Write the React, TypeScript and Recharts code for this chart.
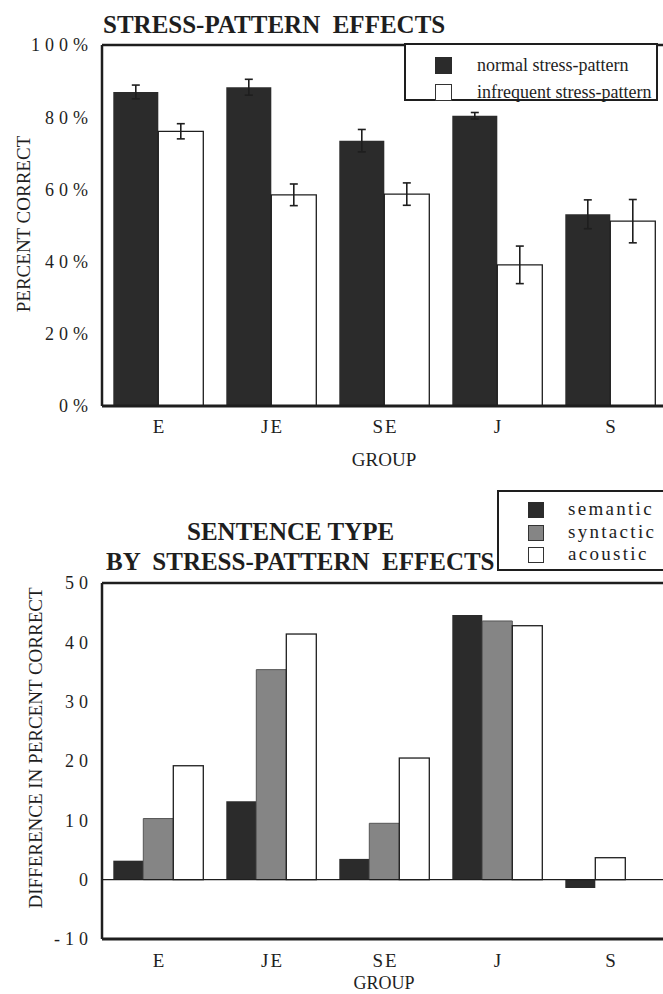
import React from 'react';
import { BarChart, Bar, XAxis, YAxis, ErrorBar, ReferenceLine, Legend } from 'recharts';

// ---------- data ----------
const groups = ['E', 'JE', 'SE', 'J', 'S'];

const normalStress = [87.0, 88.3, 73.5, 80.4, 53.1];
const normalStressErr = [1.9, 2.2, 3.1, 0.9, 4.0];
const infrequentStress = [76.1, 58.5, 58.7, 39.1, 51.2];
const infrequentStressErr = [2.1, 3.0, 3.1, 5.2, 6.0];
const percentTicks = [0, 20, 40, 60, 80, 100];

const semantic = [3.2, 13.2, 3.5, 44.6, -1.4];
const syntactic: (number | null)[] = [10.3, 35.4, 9.5, 43.6, null];
const acoustic = [19.2, 41.4, 20.5, 42.8, 3.7];
const diffTicks = [-10, 0, 10, 20, 30, 40, 50];

const topSeries = [
  { key: 'normal', err: 'normalErr', name: 'normal stress-pattern', fill: '#2b2b2b', stroke: 'none' },
  { key: 'infrequent', err: 'infrequentErr', name: 'infrequent stress-pattern', fill: '#ffffff', stroke: '#1e1e1e' },
];
const bottomSeries = [
  { key: 'semantic', name: 'semantic', fill: '#2b2b2b', stroke: 'none' },
  { key: 'syntactic', name: 'syntactic', fill: '#858585', stroke: '#555555' },
  { key: 'acoustic', name: 'acoustic', fill: '#ffffff', stroke: '#1e1e1e' },
];

const topData = groups.map((g, i) => ({
  group: g,
  normal: normalStress[i],
  normalErr: normalStressErr[i],
  infrequent: infrequentStress[i],
  infrequentErr: infrequentStressErr[i],
}));
const bottomData = groups.map((g, i) => ({
  group: g,
  semantic: semantic[i],
  syntactic: syntactic[i],
  acoustic: acoustic[i],
}));

// ---------- styles ----------
const SERIF = '"Liberation Serif", "Times New Roman", Times, serif';
const INK = '#1e1e1e';

const YTick = (props: any) => {
  const { x, y, payload, suffix } = props;
  return (
    <text x={x} y={y} dy="0.355em" textAnchor="end" fill={INK}
      style={{ fontFamily: SERIF, fontSize: 18, letterSpacing: 5 }}>
      {payload.value}{suffix || ''}
    </text>
  );
};

const XTick = (props: any) => {
  const { x, y, payload } = props;
  return (
    <text x={x + 1} y={y} dy="0.71em" textAnchor="middle" fill={INK}
      style={{ fontFamily: SERIF, fontSize: 19, letterSpacing: 2 }}>
      {payload.value}
    </text>
  );
};

// acoustic bar: when the syntactic value is missing, the bar sits in the middle slot
const AcousticShape = (props: any) => {
  const { x, y, width, height, payload, fill, stroke } = props;
  const shift = payload && payload.syntactic == null ? width : 0;
  return <rect x={x - shift} y={y} width={width} height={height} fill={fill} stroke={stroke} strokeWidth={1.3} />;
};

const TopLegend = () => (
  <div style={{ boxSizing: 'border-box', width: '100%', height: '100%', border: `2.5px solid ${INK}`,
    background: '#fff', position: 'relative', fontFamily: SERIF }}>
    {topSeries.map((s, i) => (
      <div key={s.key}>
        <div style={{ position: 'absolute', left: 29, top: 12 + i * 26.5, width: 17, height: 17, boxSizing: 'border-box',
          background: s.fill, border: `1.5px solid ${s.stroke === 'none' ? s.fill : '#333'}` }} />
        <div style={{ position: 'absolute', left: 71, top: 10 + i * 26.5, fontSize: 18, lineHeight: '20px',
          color: INK, whiteSpace: 'nowrap' }}>{s.name}</div>
      </div>
    ))}
  </div>
);

const BottomLegend = () => (
  <div style={{ boxSizing: 'border-box', width: '100%', height: '100%', border: `2.5px solid ${INK}`,
    background: '#fff', position: 'relative', fontFamily: SERIF }}>
    {bottomSeries.map((s, i) => (
      <div key={s.key}>
        <div style={{ position: 'absolute', left: 29, top: 10 + i * 22.5, width: 16, height: 16, boxSizing: 'border-box',
          background: s.fill, border: `1.5px solid ${s.stroke === 'none' ? s.fill : '#333'}` }} />
        <div style={{ position: 'absolute', left: 69, top: 7 + i * 22.5, fontSize: 19, lineHeight: '20px',
          letterSpacing: 2.3, color: INK, whiteSpace: 'nowrap' }}>{s.name}</div>
      </div>
    ))}
  </div>
);

const abs = (left: number, top: number, extra: any = {}) => ({
  position: 'absolute' as const, left, top, fontFamily: SERIF, color: INK, whiteSpace: 'pre' as const, ...extra,
});

const rotated = (cx: number, cy: number, size: number) => ({
  position: 'absolute' as const, left: cx, top: cy, fontFamily: SERIF, color: INK, fontSize: size, lineHeight: 1,
  whiteSpace: 'nowrap' as const, transform: 'translate(-50%, -50%) rotate(-90deg)',
});

const centered = (cx: number, cy: number, size: number) => ({
  position: 'absolute' as const, left: cx, top: cy, fontFamily: SERIF, color: INK, fontSize: size, lineHeight: 1,
  whiteSpace: 'nowrap' as const, transform: 'translate(-50%, -50%)',
});

export default function App() {
  return (
    <div style={{ position: 'absolute', left: 0, top: 0, width: 663, height: 994, overflow: 'hidden', background: '#fff' }}>
      {/* ---------- top chart ---------- */}
      <div style={{ position: 'absolute', left: 0, top: 0 }}>
        <BarChart width={667} height={470} data={topData} margin={{ top: 45, right: 0, left: 0, bottom: 0 }}
          barCategoryGap="10%" barGap={0}>
          <XAxis dataKey="group" height={64} tickLine={false} tickSize={0} tickMargin={14}
            axisLine={{ stroke: INK, strokeWidth: 3 }} tick={<XTick />} interval={0} />
          <YAxis width={102} domain={[0, 100]} ticks={percentTicks} tickLine={false} tickSize={0} tickMargin={9}
            axisLine={{ stroke: INK, strokeWidth: 2.5 }} tick={<YTick suffix="%" />} interval={0} />
          <ReferenceLine y={100} stroke={INK} strokeWidth={2.5} />
          {topSeries.map((s) => (
            <Bar key={s.key} dataKey={s.key} name={s.name} fill={s.fill} stroke={s.stroke}
              strokeWidth={s.stroke === 'none' ? 0 : 1.3} isAnimationActive={false}>
              <ErrorBar dataKey={s.err} width={4} stroke={INK} strokeWidth={1.6} direction="y" />
            </Bar>
          ))}
          <Legend layout="vertical" align="center" verticalAlign="middle" content={<TopLegend />}
            wrapperStyle={{ position: 'absolute', left: 404, top: 43, width: 254, height: 58 }} />
        </BarChart>
      </div>

      <div style={abs(103, 12, { fontSize: 25, fontWeight: 'bold', lineHeight: '25px' })}>STRESS-PATTERN  EFFECTS</div>
      <div style={rotated(22.5, 224, 19)}>PERCENT CORRECT</div>
      <div style={centered(384, 458.5, 19)}>GROUP</div>

      {/* ---------- bottom chart ---------- */}
      <div style={{ position: 'absolute', left: 0, top: 480 }}>
        <BarChart width={667} height={514} data={bottomData} margin={{ top: 103, right: 0, left: 0, bottom: 0 }}
          barCategoryGap="10%" barGap={0}>
          <XAxis dataKey="group" height={55} tickLine={false} tickSize={0} tickMargin={15}
            axisLine={{ stroke: INK, strokeWidth: 3 }} tick={<XTick />} interval={0} />
          <YAxis width={102} domain={[-10, 50]} ticks={diffTicks} tickLine={false} tickSize={0} tickMargin={9}
            axisLine={{ stroke: INK, strokeWidth: 2.5 }} tick={<YTick />} interval={0} />
          <ReferenceLine y={50} stroke={INK} strokeWidth={2.5} />
          {bottomSeries.map((s) => (
            <Bar key={s.key} dataKey={s.key} name={s.name} fill={s.fill} stroke={s.stroke}
              strokeWidth={s.stroke === 'none' ? 0 : 1} isAnimationActive={false}
              shape={s.key === 'acoustic' ? <AcousticShape /> : undefined} />
          ))}
          <ReferenceLine y={0} stroke={INK} strokeWidth={1.3} />
          <Legend layout="vertical" align="center" verticalAlign="middle" content={<BottomLegend />}
            wrapperStyle={{ position: 'absolute', left: 497, top: 10, width: 200, height: 81 }} />
        </BarChart>
      </div>

      <div style={abs(187, 519, { fontSize: 25, fontWeight: 'bold', lineHeight: '25px' })}>SENTENCE TYPE</div>
      <div style={abs(106, 549, { fontSize: 25, fontWeight: 'bold', lineHeight: '25px' })}>BY  STRESS-PATTERN  EFFECTS</div>
      <div style={rotated(35, 747.5, 19)}>DIFFERENCE IN PERCENT CORRECT</div>
      <div style={centered(384, 983, 18)}>GROUP</div>
    </div>
  );
}
